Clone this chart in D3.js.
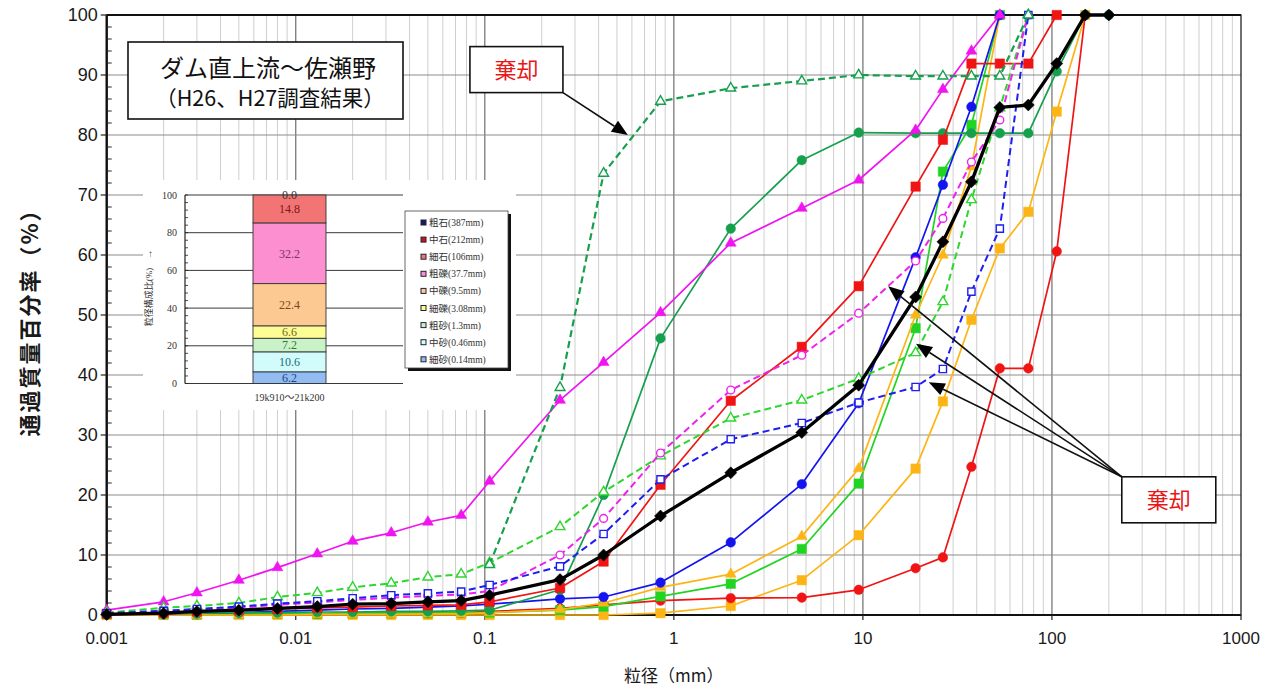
<!DOCTYPE html>
<html lang="ja">
<head>
<meta charset="utf-8">
<title>粒径加積曲線 ダム直上流～佐瀬野</title>
<script src="https://cdn.jsdelivr.net/npm/d3@7"></script>
<style>
  body { margin: 0; background: #fff; }
  svg { display: block; }
</style>
</head>
<body>
<svg id="chart" width="1264" height="690"></svg>
<script>
// ---- sieve / hydrometer sizes (mm) ----
const sizes = [0.001, 0.002, 0.003, 0.005, 0.008, 0.013, 0.02, 0.032, 0.05, 0.075, 0.106,
               0.25, 0.425, 0.85, 2, 4.75, 9.5, 19, 26.5, 37.5, 53, 75, 106, 150, 200];

// ---- passing percentage per sample (aligned with sizes; null = no measurement) ----
const magentaTriangle = [0.8, 2.2, 3.7, 5.8, 7.9, 10.2, 12.3, 13.7, 15.5, 16.6, 22.3,
                         35.8, 42.1, 50.4, 62.0, 67.8, 72.5, 80.8, 87.6, 94.0, 100];
const greenDashTriangle = [null, null, null, null, null, null, null, null, null, null, 8.4,
                           37.9, 73.6, 85.6, 87.8, 89.0, 90.0, 89.8, 89.8, 89.8, 89.8, 100];
const greenCircle = [0.2, 0.3, 0.3, 0.4, 0.4, 0.5, 0.5, 0.6, 0.6, 0.7, 0.8,
                     4.2, 20.0, 46.1, 64.4, 75.8, 80.4, 80.3, 80.3, 80.3, 80.3, 80.3, 90.6, 100, 100];
const redSquare = [0.2, 0.4, 0.6, 0.8, 1.0, 1.2, 1.3, 1.5, 1.6, 1.7, 2.2,
                   4.5, 8.9, 21.7, 35.7, 44.7, 54.8, 71.4, 79.2, 91.9, 91.9, 91.9, 100];
const magentaDashCircle = [0.2, 0.5, 0.8, 1.2, 1.7, 2.1, 2.5, 2.9, 3.2, 3.4, 4.0,
                           10.0, 16.1, 27.0, 37.5, 43.3, 50.3, 59.0, 66.1, 75.5, 82.5, 100];
const limeDashTriangle = [0.4, 1.2, 1.5, 2.0, 3.0, 3.7, 4.6, 5.3, 6.3, 6.8, 8.7,
                          14.7, 20.5, 26.5, 32.8, 35.8, 39.4, 43.7, 52.2, 69.2, 84.5, 100];
const blueDashSquare = [0.3, 0.7, 1.0, 1.4, 1.9, 2.3, 2.8, 3.3, 3.6, 3.9, 5.0,
                        8.1, 13.5, 22.6, 29.3, 32.0, 35.4, 38.0, 41.0, 53.9, 64.4, 100];
const averageCurve = [0.1, 0.3, 0.6, 0.8, 1.1, 1.4, 1.8, 1.9, 2.2, 2.4, 3.3,
                      5.9, 10.0, 16.5, 23.7, 30.4, 38.3, 53.0, 62.2, 72.2, 84.6, 85.0, 91.9, 100, 100];
const blueCircle = [0.1, 0.2, 0.3, 0.4, 0.6, 0.8, 1.0, 1.1, 1.3, 1.5, 1.8,
                    2.7, 3.0, 5.4, 12.1, 21.8, 35.3, 59.6, 71.7, 84.7, 100];
const orangeTriangle = [0, 0, 0, 0, 0, 0.1, 0.1, 0.1, 0.2, 0.2, 0.4,
                        0.9, 2.0, 4.6, 6.8, 13.1, 24.4, 50.0, 60.0, 74.7, 100];
const limeSquare = [0.1, 0.1, 0.1, 0.2, 0.2, 0.2, 0.3, 0.3, 0.3, 0.4, 0.4,
                    0.8, 1.4, 3.1, 5.2, 11.0, 21.9, 47.8, 73.9, 81.7, 100];
const orangeSquare = [0, 0, 0, 0, 0, 0, 0, 0, 0, 0, 0,
                      0, 0, 0.3, 1.5, 5.8, 13.3, 24.4, 35.6, 49.2, 61.1, 67.2, 83.9, 100];
const redCircle = [0.1, 0.1, 0.1, 0.2, 0.2, 0.2, 0.3, 0.3, 0.3, 0.4, 0.6,
                   1.1, 1.7, 2.4, 2.8, 2.9, 4.2, 7.8, 9.6, 24.7, 41.1, 41.1, 60.6, 100];

// ---- axis ticks ----
const xTickValues = [0.001, 0.01, 0.1, 1, 10, 100, 1000];
const xTickLabels = ["0.001", "0.01", "0.1", "1", "10", "100", "1000"];
const yTickValues = [0, 10, 20, 30, 40, 50, 60, 70, 80, 90, 100];

// ---- inset: grain-size composition of the reach ----
const fractionNames = ["細砂(0.14mm)", "中砂(0.46mm)", "粗砂(1.3mm)", "細礫(3.08mm)", "中礫(9.5mm)",
                       "粗礫(37.7mm)", "細石(106mm)", "中石(212mm)", "粗石(387mm)"];
const fractionShares = [6.2, 10.6, 7.2, 6.6, 22.4, 32.2, 14.8, 0.0, 0.0];
const insetCategory = "19k910～21k200";
const insetTicks = [0, 20, 40, 60, 80, 100];

// ---- rejected-sample callouts (data units) ----
const rejectUpper = { label: "棄却", center: [0.147, 90.9], tips: [[0.571, 80.0]] };
const rejectLower = { label: "棄却", center: [415, 19.2], tips: [[13.6, 54.8], [19.1, 45.2], [22.3, 38.8]] };

// =====================================================================
const svg = d3.select("#chart");
const M = { l: 106.7, r: 1241, t: 15, b: 615 };
const x = d3.scaleLog().domain([0.001, 1000]).range([M.l, M.r]);
const y = d3.scaleLinear().domain([0, 100]).range([M.b, M.t]);

const SANS = "'Liberation Sans', Arial, 'Noto Sans CJK JP', sans-serif";
const JP = "'Noto Sans CJK JP', 'Liberation Sans', sans-serif";
const SERIF = "'Liberation Serif', 'Times New Roman', 'Noto Sans CJK JP', serif";

// ---- grid ----
const grid = svg.append("g");
const minorX = [];
for (let e = -3; e < 3; e++) for (let k = 2; k <= 9; k++) minorX.push(k * Math.pow(10, e));
grid.selectAll("line.minor").data(minorX).join("line")
  .attr("x1", d => x(d)).attr("x2", d => x(d)).attr("y1", M.t).attr("y2", M.b)
  .attr("stroke", "#cfcfcf").attr("stroke-width", 1);
grid.selectAll("line.decade").data(xTickValues.slice(1, -1)).join("line")
  .attr("x1", d => x(d)).attr("x2", d => x(d)).attr("y1", M.t).attr("y2", M.b)
  .attr("stroke", "#6e6e6e").attr("stroke-width", 1.2);
grid.selectAll("line.h").data(yTickValues.slice(1, -1)).join("line")
  .attr("x1", M.l).attr("x2", M.r).attr("y1", d => y(d)).attr("y2", d => y(d))
  .attr("stroke", "#8c8c8c").attr("stroke-width", 1.2);

// ---- frame ----
svg.append("rect").attr("x", M.l).attr("y", M.t).attr("width", M.r - M.l).attr("height", M.b - M.t)
  .attr("fill", "none").attr("stroke", "#111").attr("stroke-width", 1.2);
svg.append("line").attr("x1", M.l).attr("x2", M.r).attr("y1", M.t).attr("y2", M.t)
  .attr("stroke", "#111").attr("stroke-width", 2);
svg.append("line").attr("x1", M.l).attr("x2", M.r).attr("y1", M.b).attr("y2", M.b)
  .attr("stroke", "#111").attr("stroke-width", 2.2);
svg.append("line").attr("x1", M.l).attr("x2", M.l).attr("y1", M.t).attr("y2", M.b)
  .attr("stroke", "#111").attr("stroke-width", 2.4);

// ---- y axis ----
const yAxis = svg.append("g");
const yMinor = d3.range(0, 101, 2);
yAxis.selectAll("line.ym").data(yMinor).join("line")
  .attr("x1", M.l).attr("x2", d => M.l + (d % 10 === 0 ? 0 : 5)).attr("y1", d => y(d)).attr("y2", d => y(d))
  .attr("stroke", "#222").attr("stroke-width", 1);
yAxis.selectAll("line.yM").data(yTickValues).join("line")
  .attr("x1", M.l - 6).attr("x2", M.l).attr("y1", d => y(d)).attr("y2", d => y(d))
  .attr("stroke", "#222").attr("stroke-width", 1.2);
yAxis.selectAll("text").data(yTickValues).join("text")
  .attr("x", M.l - 9).attr("y", d => y(d)).attr("dy", "0.36em")
  .attr("text-anchor", "end").attr("font-family", SANS).attr("font-size", 18).attr("fill", "#1a1a1a")
  .text(d => d);
svg.append("text")
  .attr("transform", `translate(30,${(M.t + M.b) / 2 + 2}) rotate(-90)`)
  .attr("text-anchor", "middle").attr("dy", "0.35em")
  .attr("font-family", JP).attr("font-size", 22).attr("font-weight", "bold").attr("letter-spacing", 2)
  .attr("fill", "#1a1a1a")
  .text("通過質量百分率（%）");

// ---- x axis ----
const xAxis = svg.append("g");
xAxis.selectAll("line").data(xTickValues).join("line")
  .attr("x1", d => x(d)).attr("x2", d => x(d)).attr("y1", M.b).attr("y2", M.b + 5)
  .attr("stroke", "#222").attr("stroke-width", 1.2);
xAxis.selectAll("text").data(xTickValues).join("text")
  .attr("x", d => x(d)).attr("y", 644)
  .attr("text-anchor", "middle").attr("font-family", SANS).attr("font-size", 17).attr("fill", "#1a1a1a")
  .text((d, i) => xTickLabels[i]);
svg.append("text").attr("x", (M.l + M.r) / 2).attr("y", 682).attr("text-anchor", "middle")
  .attr("font-family", JP).attr("font-size", 17).attr("fill", "#1a1a1a").text("粒径（mm）");

// ---- inset composition chart ----
const inset = svg.append("g");
inset.append("rect").attr("x", 143).attr("y", 180).attr("width", 373).attr("height", 230).attr("fill", "#fff");
const yIn = d3.scaleLinear().domain([0, 100]).range([383.5, 195]);
const inL = 185, inR = 403, barL = 253, barR = 326;
inset.selectAll("line.g").data(insetTicks).join("line")
  .attr("x1", inL).attr("x2", inR).attr("y1", d => yIn(d)).attr("y2", d => yIn(d))
  .attr("stroke", "#222").attr("stroke-width", 0.9);
inset.append("line").attr("x1", inL).attr("x2", inL).attr("y1", yIn(0)).attr("y2", yIn(100))
  .attr("stroke", "#222").attr("stroke-width", 1.2);
inset.selectAll("line.t").data(d3.range(0, 101, 4)).join("line")
  .attr("x1", inL).attr("x2", inL + 3).attr("y1", d => yIn(d)).attr("y2", d => yIn(d))
  .attr("stroke", "#222").attr("stroke-width", 0.8);
inset.selectAll("text.t").data(insetTicks).join("text")
  .attr("x", inL - 8).attr("y", d => yIn(d)).attr("dy", "0.35em").attr("text-anchor", "end")
  .attr("font-family", SERIF).attr("font-size", 10).attr("fill", "#333").text(d => d);
inset.append("text").attr("transform", `translate(149,288) rotate(-90)`).attr("text-anchor", "middle")
  .attr("dy", "0.35em").attr("font-family", SERIF).attr("font-size", 9).attr("fill", "#333")
  .text("粒径構成比(%)　→");

const fractionColors = ["#93bdf2", "#d2fbfb", "#caf2c8", "#fdfd96", "#fdc993", "#fc8fcf", "#f27474", "#c81414", "#1a1a66"];
const fractionText = ["#1f3f8a", "#1d6d7a", "#2e7a2e", "#6f6a12", "#7a4a18", "#80306a", "#7a1a1a", "#333", "#333"];
let acc = 0;
const stack = fractionShares.map(v => { const s = { lo: acc, hi: acc + v, v }; acc += v; return s; });
inset.selectAll("rect.seg").data(stack).join("rect")
  .attr("x", barL).attr("width", barR - barL)
  .attr("y", d => yIn(d.hi)).attr("height", d => yIn(d.lo) - yIn(d.hi))
  .attr("fill", (d, i) => fractionColors[i]).attr("stroke", "#333").attr("stroke-width", 0.9);
let zeroLabelled = false;
stack.forEach((d, i) => {
  if (d.v === 0) { if (zeroLabelled) return; zeroLabelled = true; }
  inset.append("text").attr("x", (barL + barR) / 2).attr("y", yIn((d.lo + d.hi) / 2)).attr("dy", "0.36em")
    .attr("text-anchor", "middle").attr("font-family", SERIF).attr("font-size", 12)
    .attr("fill", fractionText[i]).text(d.v.toFixed(1));
});
inset.append("text").attr("x", (barL + barR) / 2).attr("y", 401).attr("text-anchor", "middle")
  .attr("font-family", SERIF).attr("font-size", 10).attr("fill", "#333").text(insetCategory);

// legend (top entry = coarsest fraction)
const lg = inset.append("g");
lg.append("rect").attr("x", 408).attr("y", 214).attr("width", 103).attr("height", 157).attr("fill", "#111");
lg.append("rect").attr("x", 405).attr("y", 211).attr("width", 103).attr("height", 157)
  .attr("fill", "#fff").attr("stroke", "#444").attr("stroke-width", 0.8);
const legendOrder = d3.range(fractionNames.length).reverse();
lg.selectAll("rect.i").data(legendOrder).join("rect")
  .attr("x", 421).attr("y", (d, k) => 220 + k * 17.1).attr("width", 5).attr("height", 5)
  .attr("fill", d => fractionColors[d]).attr("stroke", "#223").attr("stroke-width", 1);
lg.selectAll("text.i").data(legendOrder).join("text")
  .attr("x", 429).attr("y", (d, k) => 222.7 + k * 17.1).attr("dy", "0.35em")
  .attr("font-family", SERIF).attr("font-size", 9.5).attr("fill", "#333")
  .text(d => fractionNames[d]);

// ---- title box ----
const tb = svg.append("g");
tb.append("rect").attr("x", 128).attr("y", 42).attr("width", 275).attr("height", 77)
  .attr("fill", "#fff").attr("stroke", "#111").attr("stroke-width", 1.6);
tb.append("text").attr("x", 268).attr("y", 77).attr("text-anchor", "middle")
  .attr("font-family", JP).attr("font-size", 24).attr("fill", "#111").text("ダム直上流～佐瀬野");
tb.append("text").attr("x", 270).attr("y", 106).attr("text-anchor", "middle")
  .attr("font-family", JP).attr("font-size", 21.5).attr("fill", "#111").text("（H26、H27調査結果）");

// ---- grading curves ----
const curveStyles = [
  { values: orangeSquare,      color: "#FDB515", marker: "square",   open: false, dash: null, w: 1.7 },
  { values: redCircle,         color: "#F01414", marker: "circle",   open: false, dash: null, w: 1.7 },
  { values: limeSquare,        color: "#22D422", marker: "square",   open: false, dash: null, w: 1.7 },
  { values: orangeTriangle,    color: "#FDB515", marker: "triangle", open: false, dash: null, w: 1.7 },
  { values: blueCircle,        color: "#1414F0", marker: "circle",   open: false, dash: null, w: 1.7 },
  { values: greenCircle,       color: "#16A04E", marker: "circle",   open: false, dash: null, w: 1.7 },
  { values: magentaTriangle,   color: "#F014F0", marker: "triangle", open: false, dash: null, w: 1.7 },
  { values: redSquare,         color: "#F01414", marker: "square",   open: false, dash: null, w: 1.7 },
  { values: limeDashTriangle,  color: "#2ED62E", marker: "triangle", open: true,  dash: "7,4", w: 2 },
  { values: magentaDashCircle, color: "#EE22EE", marker: "circle",   open: true,  dash: "7,4", w: 2 },
  { values: blueDashSquare,    color: "#1E1EF0", marker: "square",   open: true,  dash: "7,4", w: 2 },
  { values: greenDashTriangle, color: "#16A04E", marker: "triangle", open: true,  dash: "7,4", w: 2.2 },
  { values: averageCurve,      color: "#000000", marker: "diamond",  open: false, dash: null, w: 3.3 }
];
const symbolFor = (m, open) => {
  if (m === "square") return d3.symbol(d3.symbolSquare, open ? 52 : 88)();
  if (m === "circle") return d3.symbol(d3.symbolCircle, open ? 48 : 72)();
  if (m === "triangle") return d3.symbol(d3.symbolTriangle, open ? 42 : 52)();
  return d3.symbol(d3.symbolSquare, 72)();
};
const line = d3.line().defined(d => d.p != null).x(d => x(d.s)).y(d => y(d.p));
const curves = svg.append("g");
curveStyles.forEach(c => {
  const pts = c.values.map((p, i) => ({ s: sizes[i], p })).filter(d => d.p != null);
  const g = curves.append("g");
  g.append("path").datum(pts).attr("d", line).attr("fill", "none")
    .attr("stroke", c.color).attr("stroke-width", c.w).attr("stroke-linejoin", "round")
    .attr("stroke-dasharray", c.dash);
  g.selectAll("path.m").data(pts).join("path")
    .attr("d", symbolFor(c.marker, c.open))
    .attr("transform", d => `translate(${x(d.s)},${y(d.p)})` + (c.marker === "diamond" ? " rotate(45)" : ""))
    .attr("fill", c.open ? "#fff" : c.color)
    .attr("stroke", c.color).attr("stroke-width", c.open ? 1.4 : 0.5);
});

// ---- rejected-sample callouts ----
function arrow(g, x1, y1, x2, y2) {
  const dx = x2 - x1, dy = y2 - y1, L = Math.hypot(dx, dy), ux = dx / L, uy = dy / L;
  const hl = 16, hw = 6.5, bx = x2 - ux * hl, by = y2 - uy * hl;
  g.append("line").attr("x1", x1).attr("y1", y1).attr("x2", bx).attr("y2", by)
    .attr("stroke", "#111").attr("stroke-width", 1.6);
  g.append("path").attr("d", `M${x2},${y2}L${bx - uy * hw},${by + ux * hw}L${bx + uy * hw},${by - ux * hw}Z`)
    .attr("fill", "#000");
}
function callout(note, w, h, corner) {
  const g = svg.append("g");
  const cx = x(note.center[0]), cy = y(note.center[1]);
  const ox = cx + corner[0] * w / 2, oy = cy + corner[1] * h / 2;
  note.tips.forEach(t => arrow(g, ox, oy, x(t[0]), y(t[1])));
  g.append("rect").attr("x", cx - w / 2).attr("y", cy - h / 2).attr("width", w).attr("height", h)
    .attr("fill", "#fff").attr("stroke", "#111").attr("stroke-width", 1.6);
  g.append("text").attr("x", cx).attr("y", cy).attr("dy", "0.36em").attr("text-anchor", "middle")
    .attr("font-family", JP).attr("font-size", 22).attr("fill", "#E81818").text(note.label);
}
callout(rejectUpper, 93, 46, [1, 1]);
callout(rejectLower, 94, 46, [-1, -1]);
</script>
</body>
</html>
